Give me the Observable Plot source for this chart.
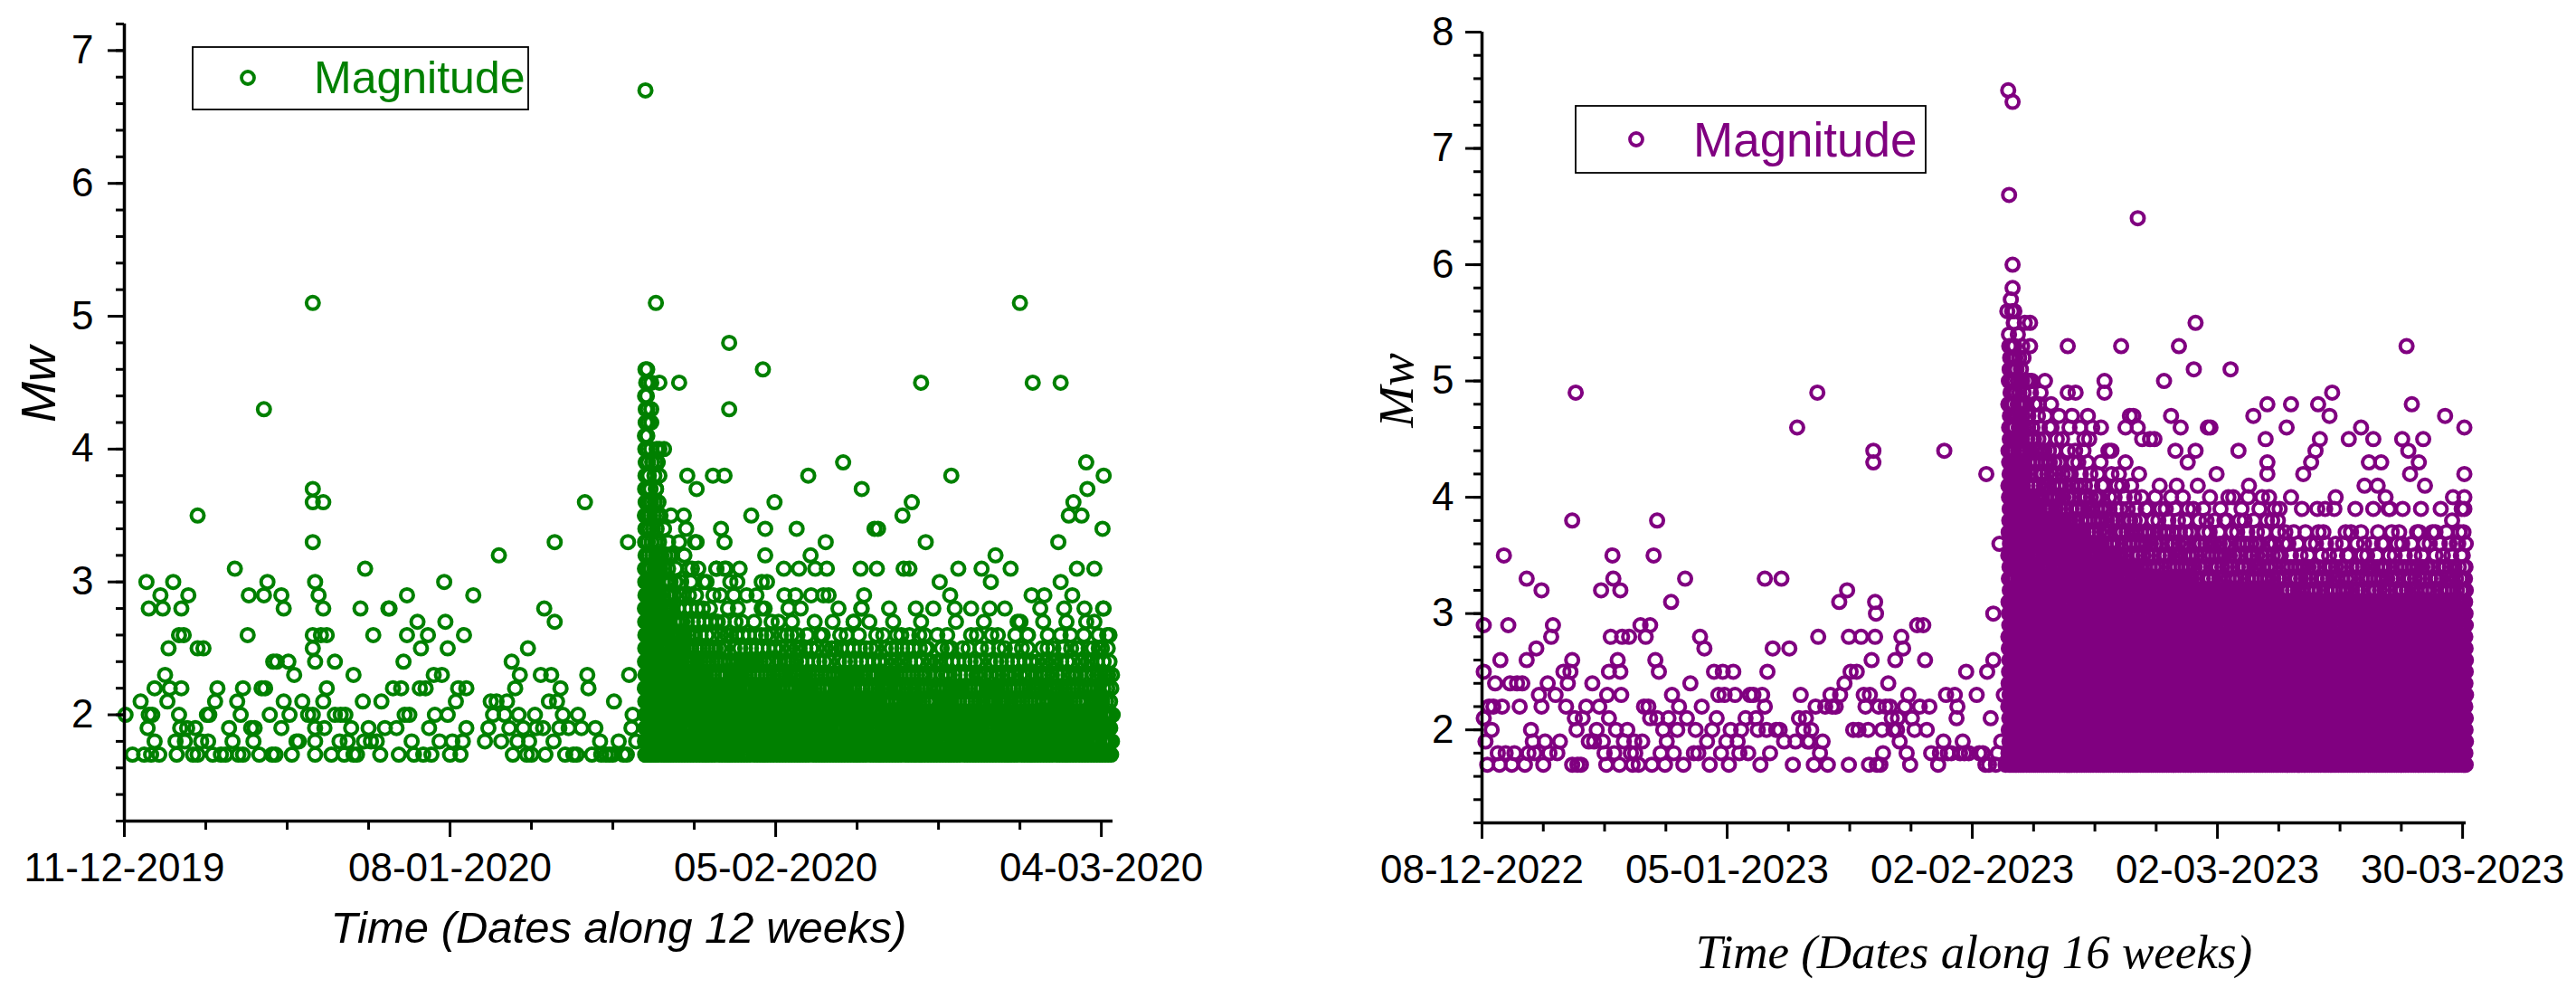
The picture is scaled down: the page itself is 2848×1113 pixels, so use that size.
<!DOCTYPE html>
<html>
<head>
<meta charset="utf-8">
<script src="https://cdn.jsdelivr.net/npm/d3@7"></script>
<script src="https://cdn.jsdelivr.net/npm/@observablehq/plot@0.6"></script>
<style>
  html, body { margin: 0; padding: 0; background: #fff; }
  #page { position: relative; width: 2848px; height: 1113px; overflow: hidden; background: #fff; }
  #left, #right { position: absolute; top: 0; }
  #left { left: 0; }
  #right { left: 1424px; }
  #legend { position: absolute; left: 0; top: 0; pointer-events: none; }
</style>
</head>
<body>
<div id="page">
  <div id="left"></div>
  <div id="right"></div>
  <svg id="legend" width="2848" height="1113"></svg>
</div>
<script>
// ---------------- DATA ----------------
const leftStart = "2019-12-11";
const rightStart = "2022-12-08";
const leftColor = "#008000";
const rightColor = "#800080";
const legendLabel = "Magnitude";

const leftTickDays = [0, 28, 56, 84];
const leftTickLabels = ["11-12-2019", "08-01-2020", "05-02-2020", "04-03-2020"];
const rightTickDays = [0, 28, 56, 84, 112];
const rightTickLabels = ["08-12-2022", "05-01-2023", "02-02-2023", "02-03-2023", "30-03-2023"];
const leftYTicks = [2, 3, 4, 5, 6, 7];
const rightYTicks = [2, 3, 4, 5, 6, 7, 8];
const leftYDomain = [1.2, 7.2];
const rightYDomain = [1.2, 8];
const leftDayEnd = 85;
const rightDayEnd = 112.4;
const leftXTitle = "Time (Dates along 12 weeks)";
const rightXTitle = "Time (Dates along 16 weeks)";
const yTitle = "Mw";

// individual events [day since start, Mw]
const leftEvents = [
[0.1,2.0],[0.7,1.7],[1.7,1.7],[2.3,1.7],[1.4,2.1],[1.9,3.0],[2.1,2.8],[2.1,2.0],[2.0,1.9],[2.4,2.0],[2.6,2.2],[2.6,1.8],[3.0,1.7],[3.1,2.9],[3.3,2.8],[3.5,2.3],[3.7,2.1],[3.8,2.5],[3.9,2.2],[4.2,3.0],[4.4,1.8],[4.5,1.7],[4.7,2.6],[4.7,2.0],[4.8,1.9],[4.9,2.8],[4.9,2.2],[5.1,2.6],[5.2,1.8],[5.4,1.9],[5.5,2.9],[5.9,1.7],[6.1,1.9],[6.3,1.7],[6.3,2.5],[6.3,3.5],[6.6,1.8],[6.8,2.5],[7.1,2.0],[7.2,1.8],[7.3,2.0],[7.6,1.7],[7.8,2.1],[8.0,2.2],[8.3,1.7],[8.7,1.7],[9.0,1.9],[9.3,1.8],[9.5,3.1],[9.7,2.1],[9.8,1.7],[10.0,2.0],[10.2,2.2],[10.2,1.7],[10.6,2.6],[10.7,2.9],[10.9,1.9],[11.1,1.8],[11.2,1.9],[11.6,1.7],[11.8,2.2],[12.0,4.3],[12.0,2.9],[12.1,2.2],[12.3,3.0],[12.5,2.0],[12.7,1.7],[12.8,2.4],[13.0,1.7],[13.1,2.4],[13.5,2.9],[13.7,2.8],[13.5,1.9],[13.7,2.1],[14.1,2.4],[14.2,2.0],[14.4,1.7],[14.6,2.3],[14.8,1.8],[15.0,1.8],[15.3,2.1],[15.8,2.0],
[16.2,5.1],[16.2,3.7],[16.2,3.6],[16.2,3.3],[16.4,3.0],[16.2,2.6],[16.2,2.5],[16.4,2.4],[16.2,2.0],[16.4,1.9],[16.4,1.8],[16.4,1.7],[16.7,2.9],[16.9,2.6],[17.1,2.8],[17.1,3.6],[17.1,2.1],[17.2,1.9],[17.4,2.2],[17.4,2.6],[17.8,1.7],[18.1,2.4],[18.1,2.0],[18.5,1.8],[18.6,2.0],[18.9,1.7],[19.0,2.0],[19.2,1.8],[19.5,1.9],[19.7,2.3],[19.7,1.7],[20.0,1.7],[20.3,2.8],[20.5,2.1],[20.7,3.1],[20.6,1.8],[21.0,1.9],[21.2,1.8],[21.4,2.6],[21.7,1.8],[22.0,1.7],[22.1,2.1],[22.4,1.9],[22.7,2.8],[22.8,2.8],[23.1,2.2],[23.4,1.9],[23.6,1.7],[23.8,2.2],[24.0,2.4],[24.1,2.0],[24.3,2.9],[24.3,2.6],[24.5,2.0],[24.7,1.8],[24.9,1.7],[25.2,2.7],[25.4,2.2],[25.5,2.5],[25.7,1.7],[25.9,2.2],[26.1,2.6],[26.2,1.9],[26.4,1.7],[26.6,2.3],[26.7,2.0],[27.1,1.8],[27.3,2.3],[27.5,3.0],[27.6,2.7],[27.8,2.5],[27.8,2.0],[28.0,1.7],[28.2,1.8],[28.5,2.1],[28.7,2.2],[28.9,1.7],[29.1,1.8],[29.2,2.6],[29.4,1.9],[29.4,2.2],[30.0,2.9],
[31.0,1.8],[31.3,1.9],[31.5,2.1],[31.7,2.0],[32.0,2.1],[32.2,3.2],[32.4,1.8],[32.7,2.0],[32.9,2.1],[33.1,1.9],[33.3,2.4],[33.4,1.7],[33.6,2.2],[33.8,1.8],[33.9,2.0],[34.0,2.3],[34.3,1.9],[34.6,1.7],[34.7,2.5],[34.8,1.8],[35.0,1.7],[35.3,2.0],[35.4,1.9],[35.8,2.3],[36.0,1.9],[36.1,2.8],[36.2,1.7],[36.5,2.1],[36.7,2.3],[36.9,1.8],[37.0,2.7],[37.0,3.3],[37.2,2.1],[37.4,1.9],[37.5,2.2],[37.7,2.0],[37.9,1.7],[38.2,1.9],[38.6,1.7],[38.9,1.7],[39.0,2.0],[39.3,1.9],[39.6,3.6],[39.8,2.3],[39.9,2.2],[40.2,1.7],[40.5,1.9],[40.9,1.8],[41.0,1.7],[41.4,1.7],[41.7,1.7],[42.0,1.7],[42.1,2.1],[42.5,1.8],[42.9,1.7],[43.2,1.7],[43.3,3.3],[43.4,2.3],[43.6,1.9],[43.7,2.0],[44.0,1.8],
[44.8,6.7],[45.7,5.1],[45.3,4.5],[45.3,4.3],[45.3,4.2],[46.0,4.5],[46.0,4.0],[46.0,3.8],[46.4,4.0],[45.7,3.9],[45.7,3.7],
[47.7,4.5],[48.4,3.8],[49.2,3.7],[47.0,3.5],[48.1,3.5],[48.3,3.4],[49.2,3.3],[48.8,3.1],[50.9,3.1],[52.0,4.8],[52.0,4.3],[50.6,3.8],[51.6,3.8],[51.3,3.4],[51.6,3.3],[51.6,3.1],[52.9,3.1],[52.7,3.0],[54.9,4.6],[53.9,3.5],[55.1,3.4],[55.1,3.2],[55.9,3.6],[54.8,3.0],[56.7,3.1],[58.0,3.1],[57.8,3.4],[58.8,3.8],[59.0,3.2],[59.4,3.1],[60.4,3.1],[60.3,3.3],[60.1,2.9],[61.8,3.9],[63.4,3.7],[63.3,3.1],[64.7,3.1],[63.6,2.9],[63.4,2.8],[64.5,3.4],[64.8,3.4],[62.7,2.7],[68.5,4.5],[66.9,3.5],[67.7,3.6],[67.0,3.1],[67.5,3.1],[68.9,3.3],[68.5,2.7],[66.8,2.6],[68.8,2.6],[70.1,3.0],[71.0,2.9],[71.1,3.8],[71.4,2.8],[72.8,2.8],[71.7,3.1],[73.3,2.6],[73.6,2.5],[73.7,3.1],[74.5,3.0],[74.9,3.2],[75.7,2.8],[76.2,3.1],[76.6,2.6],[77.0,5.1],[78.1,4.5],[78.0,2.9],[77.7,2.6],[79.1,2.9],[79.0,2.7],[80.5,4.5],[80.3,3.3],[80.5,3.0],[81.5,2.9],[81.6,3.6],[81.2,3.5],[82.3,3.5],[81.0,2.7],[82.7,2.7],[81.9,3.1],[83.4,3.1],[82.7,3.9],[82.8,3.7],[82.9,2.5],[82.5,2.6],[84.5,2.6],[84.2,2.8],[84.2,3.8],[84.1,3.4],[84.3,2.3]
];

const rightEvents = [
[0.2,2.9],[0.2,2.5],[0.2,2.1],[0.4,1.9],[0.6,1.7],[0.8,2.2],[1.1,2.0],[1.3,2.2],[1.5,2.4],[1.8,1.8],[2.0,1.7],[2.1,2.6],[2.3,2.2],[2.5,3.5],[2.7,1.8],[3.0,2.9],[3.2,2.4],[3.4,1.7],[3.7,1.8],[4.0,2.4],[4.3,2.2],[4.6,2.4],[4.9,1.7],[5.1,3.3],[5.1,2.6],[5.3,1.8],[5.6,2.0],[5.8,1.9],[6.0,1.8],[6.2,2.7],[6.5,2.3],[6.8,3.2],[6.8,2.2],[7.0,1.7],[7.2,1.9],[7.5,2.4],[7.7,1.8],[7.9,2.8],[8.1,2.9],[8.4,2.3],[8.6,1.8],[8.9,1.9],[9.3,2.5],[9.6,2.2],[9.8,2.4],[10.1,2.5],[10.3,2.6],[10.3,3.8],[10.3,1.7],[10.6,2.1],[10.7,4.9],[10.8,2.0],[10.9,1.7],[11.3,1.7],[11.5,2.1],[11.9,2.2],[12.2,1.9],[12.6,2.4],[12.8,1.9],[13.1,2.0],[13.4,2.2],[13.6,3.2],[13.8,1.9],[14.0,1.8],[14.2,1.7],[14.3,2.3],[14.5,2.1],[14.5,2.5],[14.7,2.8],[14.9,3.5],[15.0,3.3],[15.1,1.8],[15.3,2.0],[15.5,2.6],[15.7,1.7],[15.8,2.5],[15.8,3.2],[15.9,2.3],[16.0,2.8],[16.2,1.9],[16.6,2.0],[16.8,2.8],[17.0,1.8],[17.2,1.7],[17.4,1.9],[17.5,1.8],[17.9,1.7],[18.1,2.9],[18.3,1.9],[18.5,2.2],[18.7,2.8],[19.0,2.2],[19.2,2.9],[19.2,2.1],[19.4,1.7],[19.6,3.5],[19.8,2.6],[20.0,3.8],[20.0,2.1],[20.2,2.5],[20.4,1.8],[20.7,2.0],[20.9,1.7],[21.1,1.9],[21.3,2.1],[21.6,3.1],[21.7,2.3],[21.9,1.8],[22.3,2.0],[22.5,2.2],[23.0,1.7],[23.2,3.3],[23.4,2.1],[23.8,2.4],[24.2,1.8],[24.4,2.0],[24.7,1.8],[24.9,2.8],[25.1,2.2],[25.4,2.7],[25.7,1.9],[26.0,1.7],[26.3,2.0],[26.5,2.5],[26.8,2.1],[27.0,2.3],[27.3,1.8],[27.5,2.5],[27.7,2.3],[27.9,1.9],[28.2,1.7],[28.4,2.0],[28.7,2.5],[28.9,2.3],[29.2,1.9],[29.4,1.8],[29.6,2.0],[30.1,2.1],[30.4,1.8],[30.6,2.3],[31.0,2.3],[31.3,2.1],[31.5,2.0],[31.8,1.7],[32.0,2.3],[32.3,2.2],[32.3,3.3],[32.5,2.0],[32.6,2.5],[32.9,1.8],[33.2,2.7],[33.6,2.0],[34.0,2.0],[34.2,3.3],[34.5,1.9],[35.1,2.7],[35.5,1.7],[35.8,1.9],[36.0,4.6],[36.2,2.1],[36.4,2.3],[36.7,2.0],[37.0,2.1],[37.2,1.9],[37.4,1.9],[37.6,2.0],[37.9,1.7],[38.1,2.2],[38.3,4.9],[38.4,2.8],[38.6,1.8],[38.9,1.9],[39.2,2.2],[39.5,1.7],[39.8,2.3],[40.0,2.2],[40.4,2.2],[40.8,3.1],[40.9,2.3],[41.4,2.4],[41.7,3.2],[41.9,1.7],[41.9,2.8],[42.1,2.5],[42.4,2.0],[42.8,2.5],[43.0,2.0],[43.3,2.8],[43.6,2.3],[43.8,2.2],[44.1,2.0],[44.2,1.7],[44.3,2.3],[44.5,2.6],[44.7,4.4],[44.7,4.3],[44.9,3.1],[45.0,3.0],[44.9,2.8],[45.1,1.7],[45.3,2.2],[45.5,1.7],[45.7,2.0],[45.8,1.8],[46.1,2.2],[46.4,2.4],[46.6,2.2],[46.8,2.1],[47.0,2.0],[47.2,2.6],[47.4,2.0],[47.5,2.1],[47.7,1.9],[47.9,2.8],[48.1,2.7],[48.3,2.2],[48.5,1.8],[48.7,2.3],[48.9,1.7],[49.1,2.1],[49.4,2.0],[49.7,2.9],[50.0,2.2],[50.4,2.9],[50.6,2.6],[50.8,2.0],[51.1,2.2],[51.3,1.8],[52.1,1.7],[52.3,1.8],[52.7,1.9],[52.8,4.4],[53.0,2.3],[53.2,1.8],[53.6,1.8],[54.0,2.3],[54.2,2.1],[54.3,2.2],[54.6,1.8],[54.9,1.9],[55.1,1.8],[55.3,2.5],[55.6,1.8],[56.5,2.3],[56.8,1.8],[57.2,1.8],[57.5,1.7],[57.6,4.2],[57.7,2.5],[57.9,1.7],[58.1,2.1],[58.4,3.0],[58.4,2.6],[58.7,1.7],[58.9,1.8],[59.1,3.6],[59.3,1.9],[59.6,2.3],[59.8,1.7],
[60.1,7.5],[60.6,7.4],[60.2,6.6],[60.6,6.0],[60.6,5.8],[60.4,5.7],[60.0,5.6],[60.8,5.6],[60.8,5.5],[61.2,5.4],[61.7,5.3],[62.0,5.5],[62.6,5.5],[62.6,5.3],[62.2,5.0],[62.8,5.0],[63.1,4.8],[63.6,4.8],[64.3,5.0],[65.0,4.8],[65.9,4.7],[66.9,5.3],[66.9,4.9],[67.4,4.7],[67.8,4.9],[68.3,4.6],[68.8,4.5],[69.2,4.7],[69.7,4.6],[70.7,4.6],[71.1,5.0],[71.1,4.9],[71.9,4.4],[73.0,5.3],[73.5,4.6],[74.0,4.7],[74.4,4.7],[74.9,6.4],[74.9,4.6],[75.4,4.5],[76.3,4.5],[76.8,4.5],[77.9,5.0],[78.7,4.7],[79.2,4.4],[79.6,5.3],[79.8,4.6],[80.6,4.3],[81.3,5.1],[81.5,5.5],[81.5,4.4],[82.9,4.6],[83.2,4.6],[83.9,4.2],[85.5,5.1],[85.8,4.0],[86.4,4.4],[87.6,4.1],[88.1,4.7],[89.1,4.0],[89.5,4.5],[89.7,4.8],[89.7,4.3],[89.7,4.2],[90.9,3.8],[91.9,4.6],[92.4,4.8],[92.4,4.0],[93.8,4.2],[94.7,4.3],[95.2,4.4],[95.5,4.8],[95.7,4.5],[96.3,3.9],[96.8,4.7],[97.1,4.9],[97.5,4.0],[99.0,4.5],[100.4,4.6],[100.8,4.1],[101.3,4.3],[101.8,4.5],[102.3,4.1],[102.7,4.3],[103.2,4.0],[103.7,3.9],[105.1,4.5],[105.6,5.3],[105.8,4.4],[106.0,4.2],[106.2,4.8],[107.0,4.3],[107.5,4.5],[107.7,4.1],[108.9,3.7],[110.0,4.7],[110.8,3.8],[110.9,4.0],[111.5,3.6],[112.2,4.6],[112.2,4.2],[112.2,4.0],[112.2,3.9]
];

// Aftershock swarms: per time bin, number of events at each Mw level from 1.7 up (run-length "count x levels")
const bandBaseMag = 1.7;
const bandMagStep = 0.1;
const leftBandStart = [44.75,45.05,46,47,48,49,50,51,52,53,54,55,56,57,58,59,60,61,62,63,64,65,66,67,68,69,70,71,72,73,74,75,76,77,78,79,80,81,82,83,84];
const leftBandCounts = [
"5x10,4x10,3x6,2x4","5x8,4x6,3x6,2x4","5x6,4x6,3x4,1x3","4x7,3x4,2x3,1x3","4x7,3x3,2x3,1x3",
"4x6,3x3,2x3,1x3,0x1,1x1","4x6,3x3,2x2,1x4","4x6,3x2,2x3,1x2,0x1,1x1","4x6,3x2,2x2,1x4","4x6,3x2,2x2,1x1,0x1,1x1",
"4x5,3x3,2x2,1x3","4x6,3x2,2x2,1x2,0x1,1x1","4x5,3x2,2x3,1x1,0x1,1x1","4x5,3x3,2x2,1x3","4x5,3x2,2x2,1x1,0x1,1x1",
"4x5,3x2,2x2,1x2,0x1,1x1","4x5,3x2,2x2,1x2,0x1,1x1","4x5,3x2,2x2,1x1,0x1,1x1","4x5,3x2,2x2,1x2","4x5,3x2,2x2,1x1,0x1,1x1",
"4x5,3x2,2x2,1x2","4x4,3x3,2x2,1x1,0x1,1x1","4x4,3x3,2x2,1x2","4x5,3x2,2x2,1x1","4x4,3x3,2x2,1x1,0x1,1x1",
"4x4,3x2,2x2,1x2,0x1,1x1","4x4,3x3,2x2,1x1","4x4,3x2,2x2,1x1,0x1,1x1","4x4,3x2,2x3,1x1","4x4,3x3,2x1,1x1,0x1,1x1",
"4x4,3x2,2x2,1x2,0x1,1x1","4x4,3x3,2x2,1x1","4x4,3x2,2x2,1x1,0x1,1x1","4x4,3x3,2x2,1x2","4x4,3x2,2x2,1x1,0x2,1x1",
"4x4,3x3,2x2,1x1","4x4,3x2,2x2,1x2,0x1,1x1","4x4,3x3,2x2,1x1","4x4,3x2,2x2,1x1,0x2,1x1","4x4,3x3,2x2,1x2","4x4,3x3,2x2,1x1,0x1,1x1"
];
const rightBandStart = [60.1,61,62,63,64,65,66,67,68,69,70,71,72,73,74,75,76,77,78,79,80,81,82,83,84,85,86,87,88,89,90,91,92,93,94,95,96,97,98,99,100,101,102,103,104,105,106,107,108,109,110,111,112];
const rightBandCounts = [
"5x14,4x15,3x8,1x3","5x14,4x12,3x6,2x4","4x14,3x10,2x6,1x4","4x14,3x10,2x5,1x4","4x14,3x9,2x5,1x3",
"4x14,3x8,2x5,1x3","4x14,3x8,2x4,1x3","4x14,3x7,2x4,1x3,0x1,1x1","4x14,3x7,2x4,1x3","4x13,3x7,2x4,1x3,0x1,1x1",
"4x13,3x7,2x4,1x3","4x13,3x6,2x4,1x3,0x1,1x1","4x13,3x6,2x4,1x3","4x13,3x5,2x4,1x3,0x1,1x1","4x13,3x5,2x4,1x3",
"4x13,3x4,2x4,1x3,0x1,1x1","4x13,3x4,2x4,1x3","4x13,3x4,2x4,1x2,0x1,1x1","4x13,3x4,2x4,1x3","4x13,3x4,2x3,1x3,0x1,1x1",
"4x13,3x4,2x4,1x3","4x12,3x4,2x4,1x3,0x1,1x1","4x12,3x4,2x4,1x3","4x12,3x4,2x4,1x2,0x1,1x1","4x12,3x4,2x4,1x3",
"4x12,3x4,2x3,1x3,0x1,1x1","4x12,3x4,2x4,1x3","4x12,3x4,2x4,1x2,0x1,1x1","4x12,3x4,2x4,1x3","4x12,3x4,2x3,1x3,0x1,1x1",
"4x12,3x4,2x4,1x3","4x12,3x3,2x3,1x3,0x1,1x1","4x12,3x3,2x3,1x3","4x12,3x3,2x3,1x2,0x2,1x1","4x12,3x3,2x3,1x3",
"4x12,3x3,2x3,1x3,0x1,1x1","4x12,3x3,2x3,1x3","4x12,3x3,2x3,1x2,0x2,1x1","4x12,3x3,2x3,1x3","4x12,3x3,2x3,1x3,0x1,1x1",
"4x12,3x3,2x3,1x3","4x12,3x3,2x3,1x2,0x2,1x1","4x12,3x3,2x3,1x3","4x12,3x3,2x3,1x3,0x1,1x1","4x12,3x3,2x3,1x3",
"4x12,3x3,2x3,1x2,0x2,1x1","4x12,3x3,2x3,1x3","4x12,3x3,2x3,1x3,0x1,1x1","4x12,3x3,2x3,1x3","4x12,3x3,2x3,1x2,0x2,1x1",
"4x12,3x3,2x3,1x3","4x12,3x3,2x3,1x3,0x1,1x1","4x12,3x3,2x3,1x3"
];
// relative position of events inside a bin, per Mw level
const binPhase = [0.5, 0.15, 0.8, 0.35, 0.65, 0.05, 0.9, 0.25, 0.55, 0.75, 0.4, 0.1, 0.7];

// ---------------- BUILD ----------------
const DAY = 864e5;
const toDate = (start, d) => new Date(Date.parse(start + "T00:00:00Z") + d * DAY);

function expandBands(starts, end, counts) {
  const out = [];
  starts.forEach((s, b) => {
    const e = b + 1 < starts.length ? starts[b + 1] : end;
    const w = e - s;
    let k = 0;
    counts[b].split(",").forEach(part => {
      const [c, n] = part.split("x").map(Number);
      for (let j = 0; j < n; j++, k++) {
        const ph = binPhase[(k + 3 * b) % binPhase.length];
        for (let i = 0; i < c; i++) {
          out.push([s + w * (i + ph) / c, Math.round((bandBaseMag + bandMagStep * k) * 10) / 10]);
        }
      }
    });
  });
  return out;
}

function makeChart(cfg) {
  const pts = cfg.events.concat(expandBands(cfg.bandStart, cfg.dayEnd, cfg.bandCounts))
    .map(([d, m]) => ({date: toDate(cfg.start, d), mag: m}));
  const tickDates = cfg.tickDays.map(d => toDate(cfg.start, d));
  const labelMap = new Map(tickDates.map((d, i) => [+d, cfg.tickLabels[i]]));
  const minorDates = d3.range(7, cfg.dayEnd, 7).filter(d => !cfg.tickDays.includes(d)).map(d => toDate(cfg.start, d));
  const yMinor = d3.range(Math.round(cfg.yDomain[0] * 10), Math.round(cfg.yDomain[1] * 10) + 1, 2).map(v => v / 10);
  const tickFont = "'Liberation Sans', Arial, sans-serif";
  return Plot.plot({
    width: 1424, height: 1113,
    marginLeft: cfg.ml, marginRight: cfg.mr, marginTop: cfg.mt, marginBottom: cfg.mb,
    x: {type: "utc", domain: [toDate(cfg.start, 0), toDate(cfg.start, cfg.dayEnd)]},
    y: {domain: cfg.yDomain},
    style: {fontFamily: tickFont, background: "#fff", overflow: "visible"},
    marks: [
      Plot.dot(pts, {x: "date", y: "mag", r: 7, stroke: cfg.color, strokeWidth: 4, fill: "none"}),
      Plot.axisY({ticks: yMinor, tickSize: 9, tickFormat: () => "", label: null, strokeWidth: 3}),
      Plot.axisY({ticks: cfg.yTicks, tickSize: 18, tickPadding: cfg.yPad, tickFormat: d => String(d), label: null,
        strokeWidth: 3, fontSize: 44, fill: "#000"}),
      Plot.axisX({ticks: minorDates, tickSize: 10, tickFormat: () => "", label: null, strokeWidth: 3}),
      Plot.axisX({ticks: tickDates, tickSize: 18, tickPadding: 17, tickFormat: d => labelMap.get(+d), label: null,
        strokeWidth: 3, fontSize: 44, fill: "#000"}),
      Plot.ruleY([cfg.yDomain[0]], {strokeWidth: 3.5, stroke: "#000"}),
      Plot.ruleX([toDate(cfg.start, 0)], {strokeWidth: 3.5, stroke: "#000"}),
      Plot.text([cfg.xTitle], {frameAnchor: "bottom", dy: cfg.xTitleDy, text: d => d, fontSize: cfg.xTitleSize,
        fontStyle: "italic", fontFamily: cfg.titleFont, fill: "#000"}),
      Plot.text([yTitle], {frameAnchor: "left", dx: -94, rotate: -90, text: d => d, fontSize: cfg.yTitleSize,
        fontStyle: "italic", fontFamily: cfg.titleFont, fill: "#000"})
    ]
  });
}

document.getElementById("left").append(makeChart({
  start: leftStart, events: leftEvents, bandStart: leftBandStart, bandCounts: leftBandCounts,
  dayEnd: leftDayEnd, tickDays: leftTickDays, tickLabels: leftTickLabels,
  yDomain: leftYDomain, yTicks: leftYTicks, color: leftColor,
  ml: 137, mr: 194, mt: 26, mb: 206, yPad: 16,
  xTitle: leftXTitle, xTitleDy: 134, xTitleSize: 49, yTitleSize: 54,
  titleFont: "'Liberation Sans', Arial, sans-serif"
}));
document.getElementById("right").append(makeChart({
  start: rightStart, events: rightEvents, bandStart: rightBandStart, bandCounts: rightBandCounts,
  dayEnd: rightDayEnd, tickDays: rightTickDays, tickLabels: rightTickLabels,
  yDomain: rightYDomain, yTicks: rightYTicks, color: rightColor,
  ml: 214, mr: 122, mt: 35, mb: 204, yPad: 13,
  xTitle: rightXTitle, xTitleDy: 160, xTitleSize: 53, yTitleSize: 55,
  titleFont: "'Liberation Serif', 'Times New Roman', serif"
}));

// ---------------- LEGENDS ----------------
const legends = [
  {box: [213, 52, 371, 69], dot: [274, 86], text: [347, 103], size: 50, color: leftColor},
  {box: [1742, 117, 387, 74], dot: [1809, 154], text: [1872, 173], size: 53, color: rightColor}
];
const lg = d3.select("#legend");
legends.forEach(l => {
  lg.append("rect").attr("x", l.box[0]).attr("y", l.box[1]).attr("width", l.box[2]).attr("height", l.box[3])
    .attr("fill", "#fff").attr("stroke", "#000").attr("stroke-width", 1.8);
  lg.append("circle").attr("cx", l.dot[0]).attr("cy", l.dot[1]).attr("r", 7)
    .attr("fill", "none").attr("stroke", l.color).attr("stroke-width", 3.8);
  lg.append("text").attr("x", l.text[0]).attr("y", l.text[1]).attr("fill", l.color)
    .attr("font-family", "'Liberation Sans', Arial, sans-serif").attr("font-size", l.size).text(legendLabel);
});
</script>
</body>
</html>
